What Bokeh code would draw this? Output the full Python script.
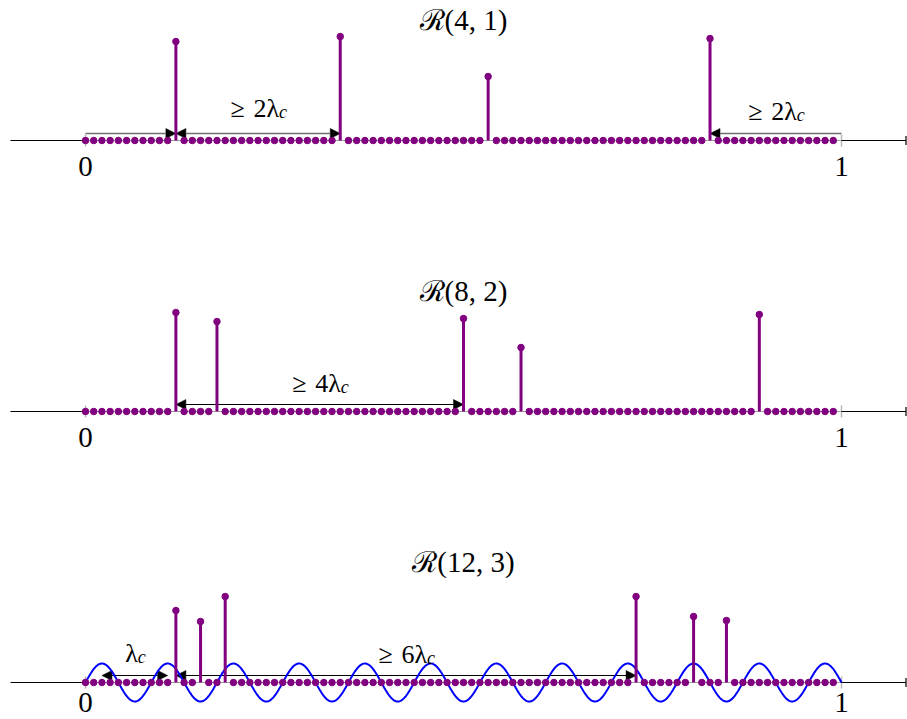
import numpy as np
from bokeh.plotting import figure
from bokeh.models import Range1d, Arrow, NormalHead, TeeHead
from bokeh.core.properties import value
from bokeh.embed import file_html
from bokeh.resources import INLINE

# ---------------- data ----------------
N = 92                                   # number of grid points on [0, 1)
titles = ["ℛ(4, 1)", "ℛ(8, 2)", "ℛ(12, 3)"]
spikes1_idx = [11, 31, 49, 76]
spikes1_amp = [0.99, 1.04, 0.64, 1.02]
spikes2_idx = [11, 16, 46, 53, 82]
spikes2_amp = [0.99, 0.90, 0.93, 0.64, 0.97]
spikes3_idx = [11, 14, 17, 67, 74, 78]
spikes3_amp = [0.72, 0.61, 0.86, 0.86, 0.66, 0.62]
wave_freq = 11.5                          # cycles on [0, 1]
wave_amp = 0.19
tick_labels = ["0", "1"]
tick_pos = [0.0, 1.0]

# arrows per panel: (start, end, heads, multiple of lambda_c or None)
lam = 1.0 / wave_freq
panel_arrows = [
    [(0 / N, 11 / N, "end", None), (11 / N, 31 / N, "both", 2), (1.0, 76 / N, "end", 2)],
    [(11 / N, 46 / N, "both", 4)],
    [(0.25 * lam, 1.25 * lam, "both", 1), (11 / N, 67 / N, "both", 6)],
]
label_gap = [[0, 16, 13], [12], [13, 12]]

spikes_idx = [spikes1_idx, spikes2_idx, spikes3_idx]
spikes_amp = [spikes1_amp, spikes2_amp, spikes3_amp]

# ---------------- layout ----------------
W, H = 907, 719
PX = 756.0                # pixels per unit on x
X0 = -85.0 / PX
bases = [579, 308, 37]    # baseline of each panel (px units on y)
digit_drop = [26, 26, 20] # distance of the 0/1 labels below each baseline
VS = 100.0                # px per amplitude unit
PURPLE = "#800080"
FONT = "Liberation Serif"

p = figure(width=W, height=H, x_range=Range1d(X0, X0 + W / PX), y_range=Range1d(0, H),
           toolbar_location=None, output_backend="svg", min_border=0)
p.axis.visible = False
p.grid.visible = False
p.outline_line_color = None

x_left = X0 + 10 / PX
x_right = X0 + (W - 1.5) / PX

# char width estimate (em) for label anchoring
cw = {"≥": 0.56, " ": 0.25, "\u2004": 0.333, "λ": 0.53}
def text_w(s, size):
    return sum(cw.get(ch, 0.5) for ch in s) * size

MAIN_SIZE = 26
SUB_SIZE = 18

for k in range(3):
    b = bases[k]
    # axis line
    p.segment(x0=[x_left], y0=[b], x1=[0], y1=[b], line_color="black", line_width=1.2)
    p.segment(x0=[0], y0=[b], x1=[1], y1=[b], line_color="#a0a0a0", line_width=1.2)
    p.add_layout(Arrow(end=TeeHead(size=9, line_color="black", line_width=1.2), x_start=1, y_start=b,
                       x_end=x_right, y_end=b, line_color="black", line_width=1.2))
    # ticks at 0 and 1
    p.segment(x0=tick_pos, y0=[b - 6] * 2, x1=tick_pos, y1=[b + 6] * 2,
              line_color="#b8b8b8", line_width=1.5)
    p.text(x=tick_pos, y=[b - digit_drop[k]] * 2, text=tick_labels, text_font=value(FONT),
           text_font_size="29px", text_align="center", text_baseline="alphabetic", text_color="black")
    # title
    p.text(x=[0.5], y=[b + 121], text=[titles[k]], text_font=value(FONT),
           text_font_size="29px", text_align="center", text_baseline="middle", text_color="black")

    # sine wave in last panel
    if k == 2:
        xs = np.linspace(0, 1, 800)
        p.line(xs, b + wave_amp * VS * np.sin(2 * np.pi * wave_freq * xs), line_color="#0000ff", line_width=2)

    # grid dots
    idx = spikes_idx[k]
    gx = [i / N for i in range(N) if i not in idx]
    p.scatter(gx, [b] * len(gx), size=6.5, color=PURPLE)

    # arrows
    col = "#707070" if k == 0 else "black"
    for j, (xs_, xe_, heads, mult) in enumerate(panel_arrows[k]):
        ya = b + 7
        hd = lambda: NormalHead(size=10, fill_color="black", line_color="black", line_width=0.5)
        p.add_layout(Arrow(start=hd() if heads == "both" else None, end=hd(),
                           x_start=xs_, y_start=ya, x_end=xe_, y_end=ya,
                           line_color=col, line_width=1.6 if k == 0 else 1.2, level="underlay"))
        if mult is None:
            continue
        main = "λ" if mult == 1 else f"≥\u2004{mult}λ"
        mw = text_w(main, MAIN_SIZE)
        sw = 0.44 * SUB_SIZE
        off = (mw - sw) / 2
        mid = (xs_ + xe_) / 2
        ly = ya + label_gap[k][j] + 9
        p.text(x=[mid], y=[ly], text=[main], x_offset=off, text_font=value(FONT),
               text_font_size=f"{MAIN_SIZE}px", text_align="right", text_baseline="alphabetic")
        p.text(x=[mid], y=[ly - 3], text=["c"], x_offset=off, text_font=value(FONT),
               text_font_style="italic", text_font_size=f"{SUB_SIZE}px",
               text_align="left", text_baseline="alphabetic")

    # spikes
    sx = [i / N for i in idx]
    top = [b + a * VS for a in spikes_amp[k]]
    p.segment(x0=sx, y0=[b] * len(sx), x1=sx, y1=top, line_color=PURPLE, line_width=3)
    p.scatter(sx, top, size=6.5, color=PURPLE)

open("out.html", "w").write(file_html(p, INLINE))
